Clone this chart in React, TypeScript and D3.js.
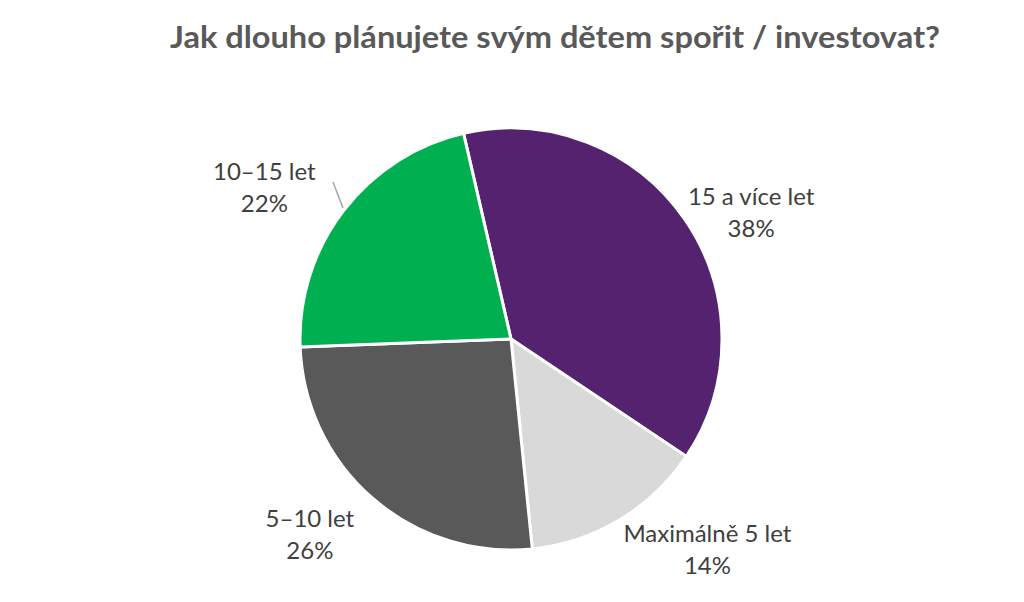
import React from "react";
import * as d3 from "d3";

const categories = ["15 a více let", "Maximálně 5 let", "5–10 let", "10–15 let"];
const values = [38, 14, 26, 22];
const colors = ["#54226F", "#D9D9D9", "#595959", "#00B050"];
const title = "Jak dlouho plánujete svým dětem spořit / investovat?";

// label placement (layout only)
const labelAngleNudge = [7, -12, 4.7, -6];
const labelRadius = [271, 288, 281, 289];

export default function App() {
  const W = 1024, H = 602;
  const cx = 511, cy = 339, r = 211;
  const startDeg = -13;
  const pie = d3.pie<number>().sort(null).value((d) => d)
    .startAngle((startDeg * Math.PI) / 180)
    .endAngle(((startDeg + 360) * Math.PI) / 180);
  const arcs = pie(values);
  const arc = d3.arc<d3.PieArcDatum<number>>().innerRadius(0).outerRadius(r);

  return (
    <svg width={W} height={H} style={{ position: "absolute", left: 0, top: 0, background: "#fff" }}>
      <rect width={W} height={H} fill="#fff" />
      <text x={555} y={48} textAnchor="middle" fontFamily="Lato, 'Open Sans', sans-serif" fontWeight="bold"
        fontSize={30} fill="#595959" textLength={770} lengthAdjust="spacingAndGlyphs">{title}</text>
      <g transform={`translate(${cx},${cy})`}>
        {arcs.map((a, i) => (
          <path key={i} d={arc(a) || ""} fill={colors[i]} stroke="#fff" strokeWidth={3} strokeLinejoin="round" />
        ))}
        <line x1={-178} y1={-157} x2={-168} y2={-131} stroke="#A6A6A6" strokeWidth={1.5} />
        {arcs.map((a, i) => {
          const mid = (a.startAngle + a.endAngle) / 2 + (labelAngleNudge[i] * Math.PI) / 180;
          const lx = Math.sin(mid) * labelRadius[i];
          const ly = -Math.cos(mid) * labelRadius[i];
          return (
            <text key={i} x={lx} y={ly} textAnchor="middle" fontFamily="Lato, sans-serif" fontSize={24} fill="#404040">
              <tspan x={lx} dy={-8}>{categories[i]}</tspan>
              <tspan x={lx} dy={32}>{`${values[i]}%`}</tspan>
            </text>
          );
        })}
      </g>
    </svg>
  );
}
